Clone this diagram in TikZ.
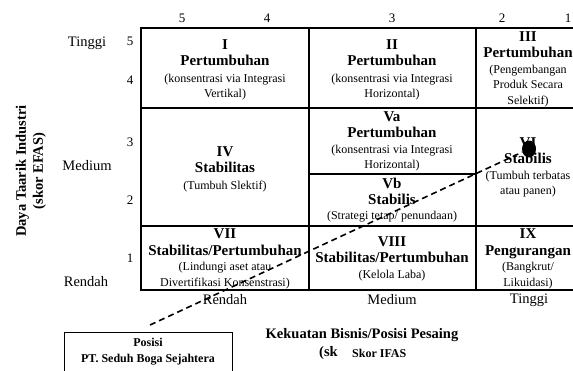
\documentclass[tikz,border=0pt]{standalone}
\usepackage{fontspec}
\setmainfont{Liberation Serif}
\usetikzlibrary{shapes.geometric}
\newcommand\celltitle[1]{{\fontsize{15}{16}\selectfont\bfseries #1}}
\begin{document}
\begin{tikzpicture}[x=1pt,y=-1pt,
  gridline/.style={line width=1.5pt},
  cell/.style={align=center, font=\fontsize{12}{15.5}\selectfont, inner sep=0pt},
  axlab/.style={font=\fontsize{14.5}{17}\selectfont, inner sep=0pt},
  ticklab/.style={font=\fontsize{13}{15}\selectfont, inner sep=0pt},
  axtitle/.style={font=\fontsize{14.5}{17}\selectfont\bfseries, inner sep=0pt, align=center},
  conn/.style={dashed, dash pattern=on 6pt off 4pt, line width=1.6pt},
  ]
\useasboundingbox (0,0) rectangle (573,370);
% grid
\draw[gridline] (141,28) rectangle (580,290);
\draw[gridline] (141,108) -- (580,108);
\draw[gridline] (141,226) -- (580,226);
\draw[gridline] (309,28) -- (309,290);
\draw[gridline] (476,28) -- (476,290);
\draw[gridline] (309,174) -- (476,174);
% top ticks
\node[ticklab] (t5) at (182,18) {5};
\node[ticklab] (t4) at (267,18) {4};
\node[ticklab] (t3) at (392,18) {3};
\node[ticklab] (t2) at (502,18) {2};
\node[ticklab] (t1) at (568,18) {1};
% left ticks
\node[ticklab] (l5) at (130,41) {5};
\node[ticklab] (l4) at (130,80) {4};
\node[ticklab] (l3) at (130,142) {3};
\node[ticklab] (l2) at (130,200) {2};
\node[ticklab] (l1) at (130,258) {1};
% left labels
\node[axlab] (ltinggi) at (87,43) {Tinggi};
\node[axlab] (lmedium) at (87,166) {Medium};
\node[axlab] (lrendah) at (86,282) {Rendah};
% bottom labels
\node[axlab] (brendah) at (225,300) {Rendah};
\node[axlab] (bmedium) at (392,300) {Medium};
\node[axlab] (btinggi) at (529,300) {Tinggi};
% axis titles
\node[axtitle, rotate=90] (ytitle) at (31,171) {Daya Taarik Industri\\(skor EFAS)};
\node[axtitle] (xtitle) at (362,335) {Kekuatan Bisnis/Posisi Pesaing};
\node[axtitle, anchor=west] (xsk) at (319,353) {(sk};
\node[font=\fontsize{12}{14}\selectfont\bfseries, inner sep=0pt, anchor=west] (ifas) at (352,353) {Skor IFAS};
% cells
\node[cell] (cI) at (225,70) {\celltitle{I}\\[1pt]\celltitle{Pertumbuhan}\\[1pt](konsentrasi via Integrasi\\Vertikal)};
\node[cell] (cII) at (392,70) {\celltitle{II}\\[1pt]\celltitle{Pertumbuhan}\\[1pt](konsentrasi via Integrasi\\Horizontal)};
\node[cell] (cIII) at (528,69) {\celltitle{III}\\[1pt]\celltitle{Pertumbuhan}\\(Pengembangan\\Produk Secara\\Selektif)};
\node[cell] (cIV) at (225,169) {\celltitle{IV}\\[1pt]\celltitle{Stabilitas}\\[1pt](Tumbuh Slektif)};
\node[cell] (cVa) at (392,141.5) {\celltitle{Va}\\[1pt]\celltitle{Pertumbuhan}\\(konsentrasi via Integrasi\\Horizontal)};
\node[cell] (cVb) at (392,200.5) {\celltitle{Vb}\\\celltitle{Stabilis}\\(Strategi tetap/ penundaan)};
\node[cell] (cVI) at (528,167.5) {\celltitle{VI}\\[1pt]\celltitle{Stabilis}\\(Tumbuh terbatas\\atau panen)};
\node[cell] (cVII) at (225,259) {\celltitle{VII}\\[1pt]\celltitle{Stabilitas/Pertumbuhan}\\(Lindungi aset atau\\Divertifikasi Konsenstrasi)};
\node[cell] (cVIII) at (392,258.5) {\celltitle{VIII}\\[1pt]\celltitle{Stabilitas/Pertumbuhan}\\(Kelola Laba)};
\node[cell] (cIX) at (528,259) {\celltitle{IX}\\[1pt]\celltitle{Pengurangan}\\(Bangkrut/\\Likuidasi)};
% position box
\draw[line width=0.9pt] (64,332) rectangle (232,385);
\node[font=\fontsize{12}{16}\selectfont\bfseries, inner sep=0pt, align=center] (posisi) at (148,352) {Posisi\\PT. Seduh Boga Sejahtera};
% marker and connector
\node[ellipse, fill=black, minimum width=14pt, minimum height=17pt, inner sep=0pt] (dot) at (529,149) {};
\coordinate (cstart) at (150,325);
\draw[conn] (cstart) -- (dot);
\end{tikzpicture}
\end{document}
